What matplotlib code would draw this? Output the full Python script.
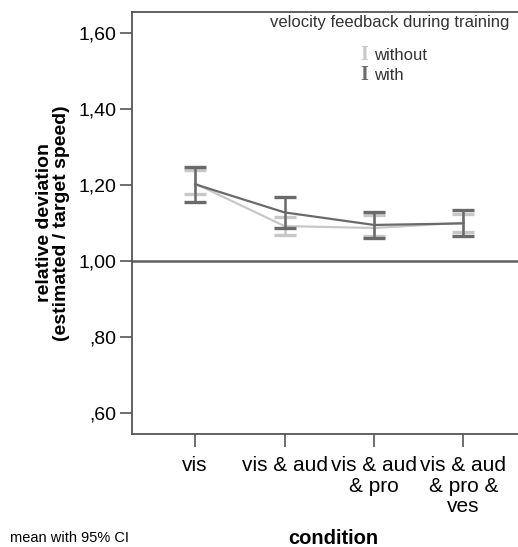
import numpy as np
import matplotlib.pyplot as plt

plt.rcParams['font.family'] = ['Liberation Sans', 'DejaVu Sans']

conditions = ['vis', 'vis & aud', 'vis & aud\n& pro', 'vis & aud\n& pro &\nves']

# mean and 95% CI bounds, velocity feedback during training
without_mean = [1.203, 1.091, 1.086, 1.100]
without_lo = [1.175, 1.068, 1.065, 1.076]
without_hi = [1.239, 1.116, 1.120, 1.124]

with_mean = [1.201, 1.127, 1.094, 1.098]
with_lo = [1.155, 1.085, 1.059, 1.064]
with_hi = [1.246, 1.168, 1.129, 1.132]

yticks = [0.6, 0.8, 1.0, 1.2, 1.4, 1.6]
ytick_labels = [',60', ',80', '1,00', '1,20', '1,40', '1,60']

light = '#c8c8c8'
dark = '#6a6a6a'
axis_col = '#555555'

fig = plt.figure(figsize=(5.18, 5.47), dpi=100)
ax = fig.add_axes([132 / 518, 1 - 434 / 547, 1 - 132 / 518, (434 - 11.7) / 547])

x = np.arange(1, len(conditions) + 1)

for mean, lo, hi, col, z in [(without_mean, without_lo, without_hi, light, 2),
                             (with_mean, with_lo, with_hi, dark, 3)]:
    mean = np.array(mean)
    err = [mean - np.array(lo), np.array(hi) - mean]
    ax.errorbar(x, mean, yerr=err, color=col, lw=1.6, elinewidth=1.8,
                capsize=8, capthick=2.4, zorder=z)

ax.axhline(1.0, color='#606060', lw=1.8, zorder=1)

ax.set_xlim(0.295, 4.61)
ax.set_ylim(0.544, 1.655)
ax.set_xticks(x)
ax.set_xticklabels(conditions, fontsize=15, linespacing=1.1)
ax.set_yticks(yticks)
ax.set_yticklabels(ytick_labels, fontsize=14)
ax.tick_params(axis='both', direction='out', length=9, width=1.2, color=axis_col, pad=2)
ax.tick_params(axis='x', pad=7)

for side in ['left', 'top', 'bottom']:
    ax.spines[side].set_color(axis_col)
    ax.spines[side].set_linewidth(1.3)
ax.spines['right'].set_visible(False)

ax.set_ylabel('relative deviation\n(estimated / target speed)', fontsize=14,
              fontweight='bold', linespacing=1.05, labelpad=6)

fig.text(333 / 518, 1 - 538 / 547, 'condition', fontsize=14.5, fontweight='bold',
         ha='center', va='center')
fig.text(10 / 518, 1 - 538 / 547, 'mean with 95% CI', fontsize=10.5,
         ha='left', va='center')

# legend
fig.text(509 / 518, 1 - 22 / 547, 'velocity feedback during training', fontsize=12,
         ha='right', va='center', color='#333333')
for ypix, label, col in [(55, 'without', light), (75, 'with', dark)]:
    fig.text(364 / 518, 1 - ypix / 547, 'I', fontsize=14.5, fontweight='bold',
             family='Liberation Serif', color=col, ha='center', va='center')
    fig.text(374 / 518, 1 - ypix / 547, label, fontsize=12, ha='left', va='center',
             color='#333333')

fig.savefig('out.png', dpi=100)
